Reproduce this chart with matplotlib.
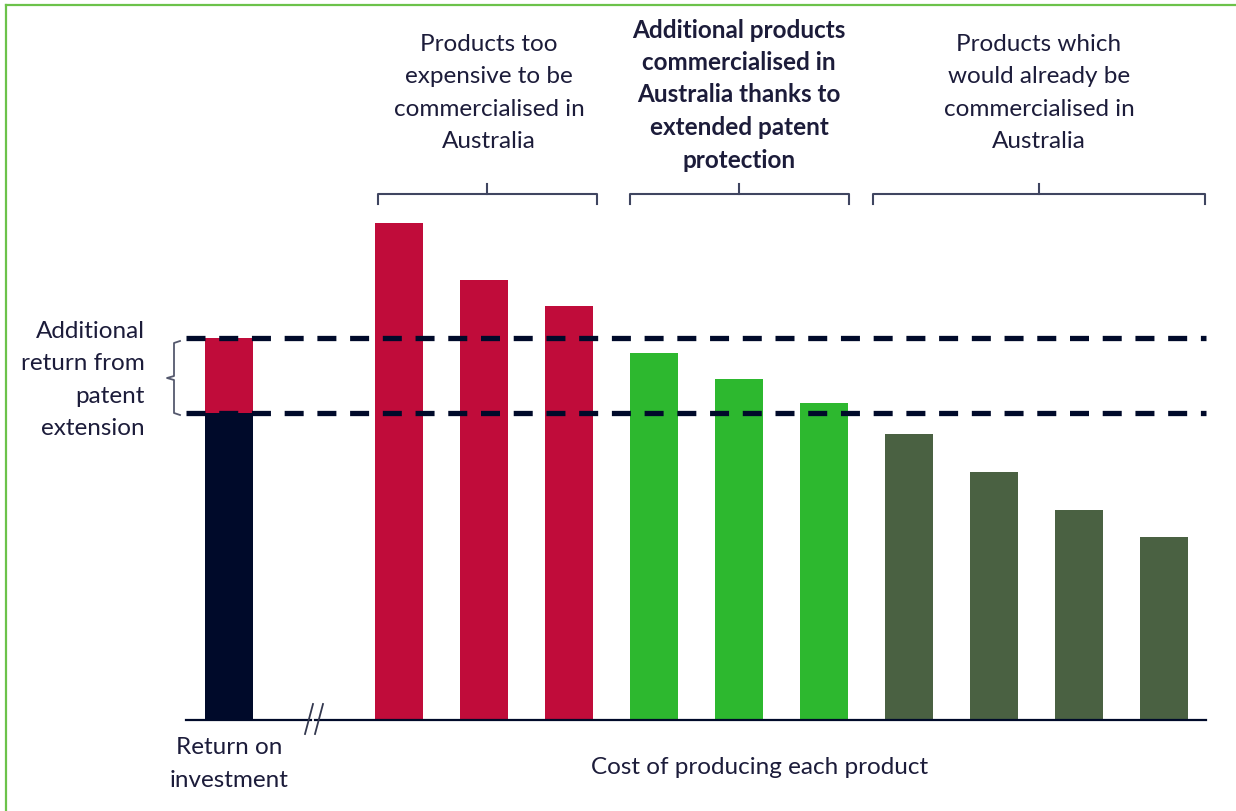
import matplotlib
matplotlib.use("Agg")
import matplotlib.pyplot as plt
from matplotlib.lines import Line2D

# ---- data ----
roi_base = 307          # return on investment (without extension)
roi_extra = 75          # additional return from patent extension
group_labels = [
    "Products too\nexpensive to be\ncommercialised in\nAustralia",
    "Additional products\ncommercialised in\nAustralia thanks to\nextended patent\nprotection",
    "Products which\nwould already be\ncommercialised in\nAustralia",
]
group_values = [
    [497, 440, 414],
    [367, 341, 317],
    [286, 248, 210, 183],
]
group_colors = ["#C00C3A", "#2DB82F", "#4A6142"]
navy = "#000A2A"
text_col = "#1C1C3A"
bracket_col = "#3F4560"

W, H = 1236, 812
fig = plt.figure(figsize=(W / 100, H / 100), dpi=100)
ax = fig.add_axes([0, 0, 1, 1])
# pixel mapping: x data unit = 85 px, bar 0 centre at px 399; y baseline at px 721
sx, x0, base_px = 85.0, 399.0, 721.0
ax.set_xlim((0 - x0) / sx, (W - x0) / sx)
ax.set_ylim(base_px - H, base_px)
ax.axis("off")

FONT = "Lato"
fs = 17.5
ls = 1.65
ls_bold = 1.5
bw = 48 / sx

def px2x(p):
    return (p - x0) / sx

def py2y(p):
    return base_px - p

# figure border (green, top & left)
fig.add_artist(Line2D([6 / W, 6 / W], [0, 1 - 6 / H], color="#6CC24A", lw=1.6, transform=fig.transFigure))
fig.add_artist(Line2D([6 / W, 1], [1 - 6 / H, 1 - 6 / H], color="#6CC24A", lw=1.6, transform=fig.transFigure))

# ROI bar
roi_x = -2
ax.bar(roi_x, roi_base, width=bw, color=navy, zorder=2)
ax.bar(roi_x, roi_extra, bottom=roi_base, width=bw, color=group_colors[0], zorder=2)

# product bars
pos = 0
for vals, col in zip(group_values, group_colors):
    xs = list(range(pos, pos + len(vals)))
    ax.bar(xs, vals, width=bw, color=col, zorder=2)
    pos += len(vals)

# baseline with break
ax.plot([px2x(186), px2x(311)], [0, 0], color=navy, lw=1.6, zorder=3)
ax.plot([px2x(315), px2x(1206)], [0, 0], color=navy, lw=1.6, zorder=3)
for bx in (309, 319):
    ax.plot([px2x(bx + 4), px2x(bx - 4)], [py2y(705), py2y(735)], color="#33384F", lw=1.3, zorder=4)

# dashed reference lines
for yv in (roi_base, roi_base + roi_extra):
    ax.plot([px2x(186), px2x(1206)], [yv, yv], color=navy, lw=3.8,
            dashes=(3.6, 2.6), zorder=5, solid_capstyle="butt", dash_capstyle="butt")

# left curly bracket
yb, yt = roi_base - 2, roi_base + roi_extra - 3
ym = (yb + yt) / 2
xr, xm, xl = px2x(180), px2x(174), px2x(167)
ax.plot([xr, xm, xm, xl, xm, xm, xr], [yb, yb + 2, ym - 2, ym, ym + 2, yt - 2, yt],
        color="#55596E", lw=1.3, zorder=3)

# top brackets
bracket_px = [(378, 597), (630, 849), (873, 1205)]
yh, yend, ytip = py2y(195), py2y(205), py2y(185)
for (a, b) in bracket_px:
    xa, xb = px2x(a), px2x(b)
    xc = (xa + xb) / 2
    ax.plot([xa, xa, xb, xb], [yend, yh, yh, yend], color=bracket_col, lw=1.5, zorder=3)
    ax.plot([xc, xc], [yh, ytip], color=bracket_col, lw=1.5, zorder=3)

# group titles
title_centres = [489, 739, 1039]
title_mid = [93, 95, 93]
for i, (lab, cx, ty) in enumerate(zip(group_labels, title_centres, title_mid)):
    ax.text(px2x(cx), py2y(ty), lab, ha="center", va="center", fontsize=fs,
            family=FONT, color=text_col, linespacing=ls_bold if i == 1 else ls,
            multialignment="center", fontweight="bold" if i == 1 else "normal")

# left label
ax.text(px2x(145), py2y(380), "Additional\nreturn from\npatent\nextension", ha="right", va="center",
        fontsize=fs, family=FONT, color=text_col, linespacing=ls, multialignment="right")

# bottom labels
ax.text(px2x(229), py2y(764), "Return on\ninvestment", ha="center", va="center",
        fontsize=fs, family=FONT, color=text_col, linespacing=ls, multialignment="center")
ax.text(px2x(760), py2y(768), "Cost of producing each product", ha="center", va="center",
        fontsize=fs, family=FONT, color=text_col)

fig.savefig("out.png", dpi=100)
